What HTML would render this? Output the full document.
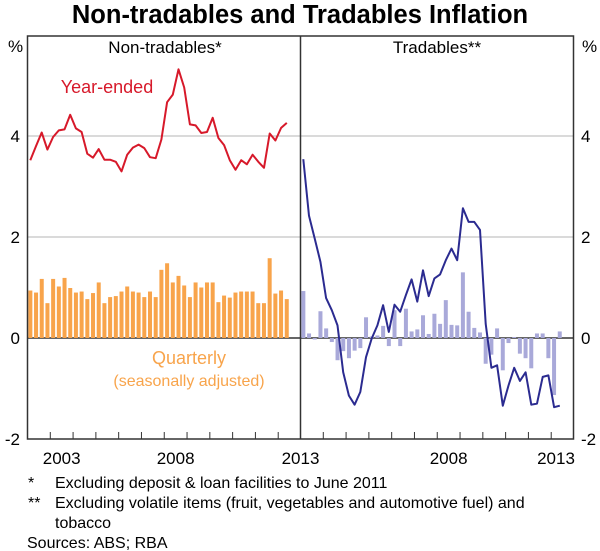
<!DOCTYPE html>
<html><head><meta charset="utf-8">
<style>
html,body{margin:0;padding:0;background:#fff;}
svg{display:block;font-family:"Liberation Sans",Arial,sans-serif;}
</style></head>
<body>
<svg id="chart" width="600" height="551" viewBox="0 0 600 551">
<text x="300" y="23" text-anchor="middle" font-size="25.5" font-weight="bold" fill="#000">Non-tradables and Tradables Inflation</text>
<g id="grid"></g>
<g id="marks"></g>
<rect x="27.5" y="36" width="546" height="403" fill="none" stroke="#333" stroke-width="1.5"/>
<line x1="300.5" y1="36" x2="300.5" y2="439" stroke="#333" stroke-width="1.5"/>
<g id="axes"></g>
<text x="165" y="53" text-anchor="middle" font-size="17">Non-tradables*</text>
<text x="437" y="53" text-anchor="middle" font-size="17">Tradables**</text>
<text x="8" y="52" font-size="17">%</text>
<text x="582" y="52" font-size="17">%</text>
<text x="107" y="93" text-anchor="middle" font-size="18" fill="#d7192a">Year-ended</text>
<text x="189" y="364" text-anchor="middle" font-size="18" fill="#f8a44b">Quarterly</text>
<text x="189" y="386" text-anchor="middle" font-size="16" fill="#f8a44b">(seasonally adjusted)</text>
<g font-size="16" fill="#000">
<text x="28" y="488">*</text>
<text x="55" y="488">Excluding deposit &amp; loan facilities to June 2011</text>
<text x="28" y="508">**</text>
<text x="55" y="508">Excluding volatile items (fruit, vegetables and automotive fuel) and</text>
<text x="55" y="528">tobacco</text>
<text x="27" y="548">Sources: ABS; RBA</text>
</g>
</svg>
<script>
const yTicks = [-2, 0, 2, 4];
const xYearLabels = [2003, 2008, 2013];
const rightYearLabels = [2008, 2013];
const ntQuarterly = [0.94,0.90,1.17,0.69,1.17,1.02,1.19,0.99,0.90,0.92,0.77,0.89,1.10,0.69,0.81,0.83,0.92,1.02,0.92,0.90,0.81,0.92,0.81,1.35,1.48,1.10,1.23,1.04,0.81,1.10,1.00,1.10,1.10,0.71,0.84,0.80,0.90,0.92,0.92,0.92,0.69,0.69,1.58,0.88,0.94,0.77];
const ntYearEnded = [3.52,3.80,4.07,3.73,3.98,4.11,4.13,4.42,4.15,4.08,3.65,3.57,3.74,3.53,3.53,3.49,3.30,3.63,3.77,3.83,3.76,3.58,3.56,3.93,4.67,4.82,5.32,4.96,4.23,4.21,4.06,4.08,4.36,3.96,3.82,3.52,3.33,3.52,3.44,3.63,3.49,3.37,4.05,3.91,4.16,4.26];
const trQuarterly = [0.93,0.09,-0.03,0.53,0.19,-0.08,-0.44,-0.26,-0.40,-0.25,-0.20,0.41,0.03,0.05,0.24,-0.16,0.55,-0.16,0.58,0.13,0.17,0.45,0.08,0.48,0.28,0.75,0.26,0.25,1.30,0.52,0.20,0.11,-0.51,-0.33,0.19,-0.64,-0.10,0.02,-0.31,-0.40,-0.60,0.09,0.09,-0.40,-1.13,0.13];
const trYearEnded = [3.54,2.42,1.97,1.51,0.79,0.55,0.25,-0.68,-1.14,-1.32,-1.07,-0.38,-0.01,0.25,0.65,0.12,0.66,0.52,0.85,1.16,0.72,1.34,0.83,1.18,1.26,1.54,1.77,1.54,2.57,2.30,2.30,2.14,0.28,-0.59,-0.54,-1.34,-0.94,-0.59,-0.85,-0.68,-1.32,-1.30,-0.77,-0.74,-1.37,-1.34];

const NS='http://www.w3.org/2000/svg';
const svg=document.getElementById('chart');
const grid=document.getElementById('grid'), marks=document.getElementById('marks'), axes=document.getElementById('axes');
const Y0=338, PXU=50.5;
const y=v=>Y0-v*PXU;
const YEAR=273.5/12;
const panelX=[27.5,300.5];
const xq=(p,i)=>panelX[p]+(i+0.5)*YEAR/4;
const xYear=(p,yr)=>panelX[p]+(yr-2002)*YEAR;
function mk(tag,attrs,parent){const e=document.createElementNS(NS,tag);for(const k in attrs)e.setAttribute(k,attrs[k]);parent.appendChild(e);return e;}

yTicks.forEach(t=>{
  if(t===-2) return;
  const l=mk('line',{x1:27.5,x2:573.5,y1:y(t),y2:y(t),stroke:t===0?'#333':'#b5b5b5','stroke-width':t===0?1.5:1},grid);
  
  
});
yTicks.forEach(t=>{
  const a=mk('text',{x:20,y:y(t)+6,'text-anchor':'end','font-size':17},axes);
  a.textContent=String(t);
  
  
  const b=mk('text',{x:581,y:y(t)+6,'text-anchor':'start','font-size':17},axes);
  b.textContent=String(t);
  
  
});
[0,1].forEach(p=>{
  for(let yr=2003;yr<=2013;yr++){
    const tk=mk('line',{x1:xYear(p,yr),x2:xYear(p,yr),y1:439,y2:432,stroke:'#333','stroke-width':1},axes);
    
    
  }
});
function yearLabel(p,yr){
  const t=mk('text',{x:xYear(p,yr)+YEAR/2,y:464,'text-anchor':'middle','font-size':17},axes);
  t.textContent=String(yr);
  
  
}
xYearLabels.forEach(yr=>{ if(yr<2013) yearLabel(0,yr); });
{ const t=mk('text',{x:300.5,y:464,'text-anchor':'middle','font-size':17},axes); t.textContent='2013';
  
   }
rightYearLabels.forEach(yr=>{ if(yr<2013) yearLabel(1,yr); });
{ const t=mk('text',{x:556,y:464,'text-anchor':'middle','font-size':17},axes); t.textContent='2013';
  
   }

const bw=4;
ntQuarterly.forEach((v,i)=>{
  const r=mk('rect',{x:xq(0,i)-bw/2,y:Math.min(y(v),Y0),width:bw,height:Math.abs(y(v)-Y0),fill:'#f8a44b'},marks);
  
  
});
trQuarterly.forEach((v,i)=>{
  const r=mk('rect',{x:xq(1,i)-bw/2,y:Math.min(y(v),Y0),width:bw,height:Math.abs(y(v)-Y0),fill:'#a9a9d9'},marks);
  
  
});
function line(p,arr,color,name){
  const pts=arr.map((v,i)=>xq(p,i).toFixed(1)+','+y(v).toFixed(1)).join(' ');
  const pl=mk('polyline',{points:pts,fill:'none',stroke:color,'stroke-width':2,'stroke-linejoin':'round'},marks);
  
  
}
line(0,ntYearEnded,'#d7192a','nontradables-year-ended-line');
line(1,trYearEnded,'#2b2b90','tradables-year-ended-line');
</script>
</body></html>
